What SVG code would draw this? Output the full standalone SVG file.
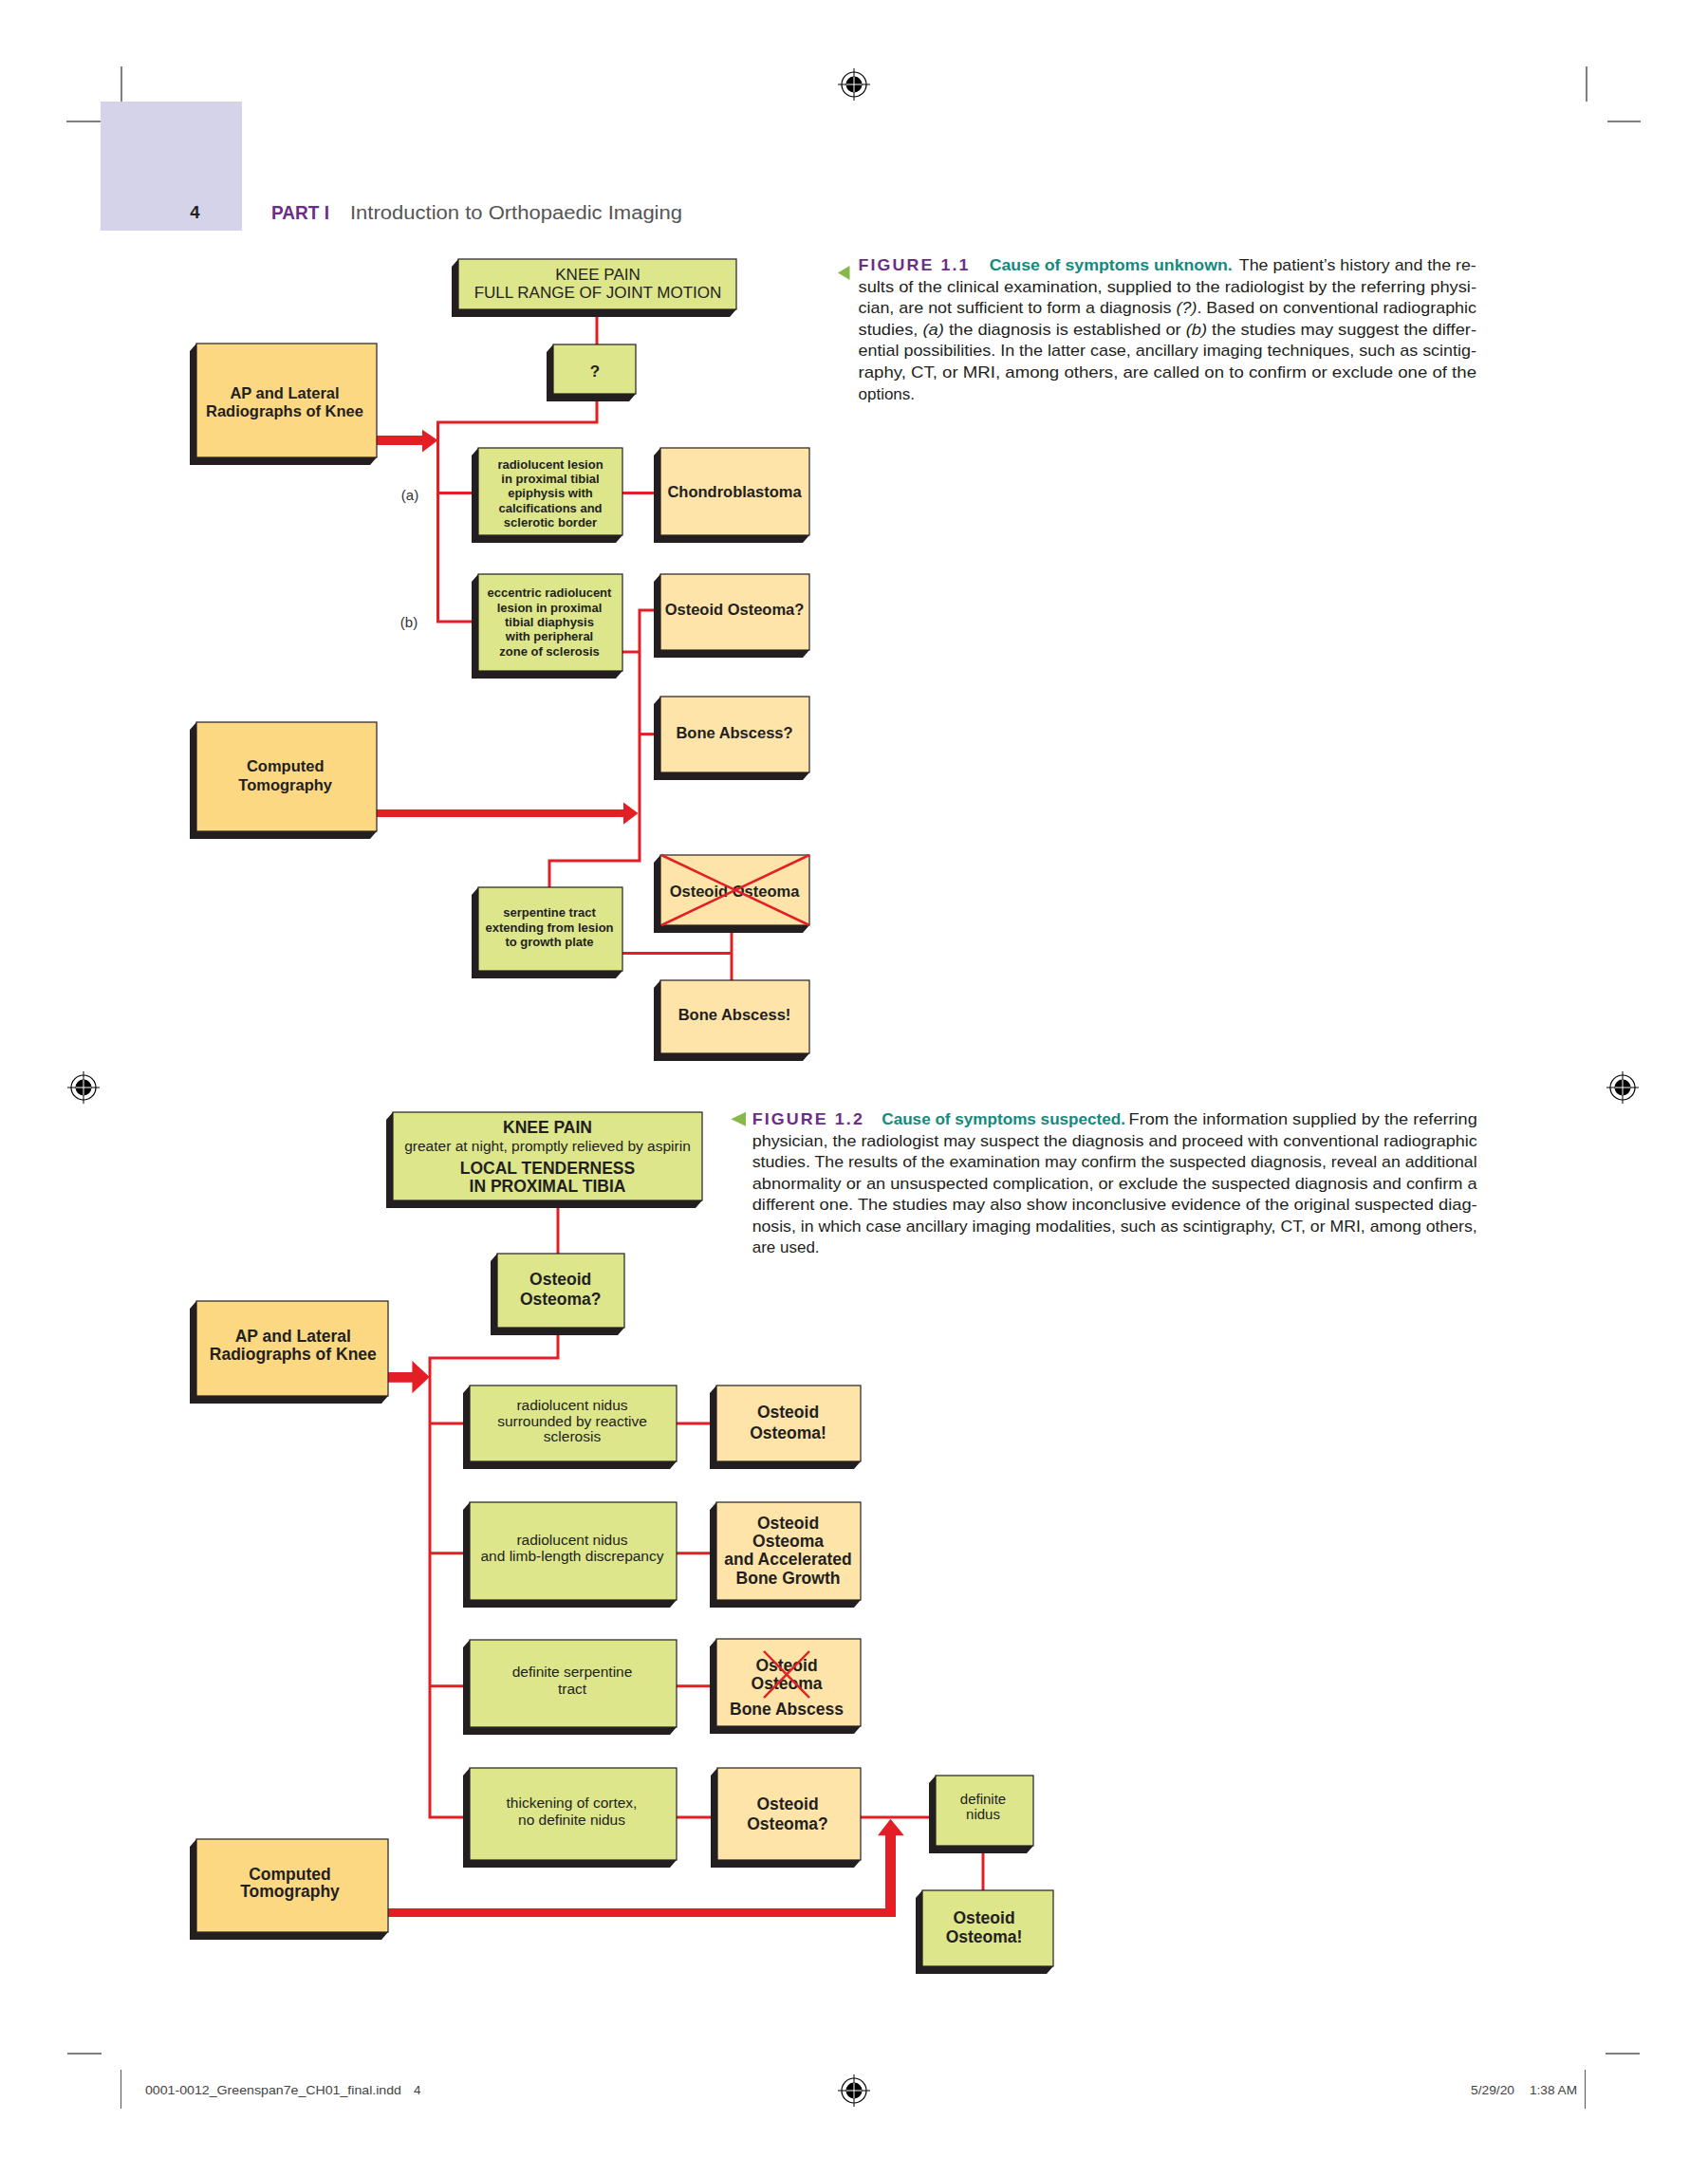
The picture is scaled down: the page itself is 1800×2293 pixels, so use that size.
<svg xmlns="http://www.w3.org/2000/svg" width="1800" height="2293" viewBox="0 0 1800 2293">
<style>
text{font-family:"Liberation Sans",Arial,sans-serif;fill:#231f20}
.sh{fill:#231f20}
.g{fill:#dde68b;stroke:#231f20;stroke-width:1.2}
.o{fill:#fdd882;stroke:#231f20;stroke-width:1.2}
.p{fill:#fee4a8;stroke:#231f20;stroke-width:1.2}
.c{fill:none;stroke:#e31e25;stroke-width:3}
.x{fill:none;stroke:#e31e25;stroke-width:2.5}
.ar{fill:#e31e25}
.t{text-anchor:middle}
.b1{font-size:16.5px;font-weight:bold}
.b2{font-size:17.5px;font-weight:bold}
.s1{font-size:13px;font-weight:bold}
.r2{font-size:15.5px}
.cap{font-size:17px}
.fig{font-size:17px;font-weight:bold;fill:#6b2d87;letter-spacing:2px}
.ttl{font-size:17px;font-weight:bold;fill:#138a7c}
.crop{stroke:#555;stroke-width:1.5}
.ft{font-size:13.5px;fill:#444}
</style>
<defs>
<g id="tgt">
<circle r="13" fill="none" stroke="#000" stroke-width="1.2"/>
<circle r="8.5" fill="#000"/>
<line x1="-17" y1="0" x2="17" y2="0" stroke="#000" stroke-width="1"/>
<line x1="0" y1="-17" x2="0" y2="17" stroke="#000" stroke-width="1"/>
<line x1="-8" y1="0" x2="8" y2="0" stroke="#fff" stroke-width="1"/>
<line x1="0" y1="-8" x2="0" y2="8" stroke="#fff" stroke-width="1"/>
</g>
</defs>
<rect width="1800" height="2293" fill="#fff"/>

<!-- page furniture -->
<g id="page">
<line class="crop" x1="128" y1="70" x2="128" y2="107"/>
<line class="crop" x1="70" y1="128" x2="106" y2="128"/>
<line class="crop" x1="1672" y1="70" x2="1672" y2="107"/>
<line class="crop" x1="1694" y1="128" x2="1729" y2="128"/>
<line class="crop" x1="71" y1="2164" x2="107" y2="2164"/>
<line class="crop" x1="1692" y1="2164" x2="1728" y2="2164"/>
<line stroke="#555" stroke-width="1" x1="127.5" y1="2181" x2="127.5" y2="2222"/>
<line stroke="#555" stroke-width="1" x1="1670.5" y1="2181" x2="1670.5" y2="2222"/>
<use href="#tgt" x="900" y="89"/>
<use href="#tgt" x="88" y="1146"/>
<use href="#tgt" x="1710" y="1146"/>
<use href="#tgt" x="900" y="2203"/>
<rect x="106" y="107" width="149" height="136" fill="#d4d3ea"/>
<text x="205.5" y="229.5" style="font-size:18.5px;font-weight:bold" text-anchor="middle">4</text>
<text x="286" y="230.5" style="font-size:20px;font-weight:bold;fill:#6b2d87" textLength="61" lengthAdjust="spacingAndGlyphs">PART I</text>
<text x="369" y="230.5" style="font-size:20px;fill:#555" textLength="350" lengthAdjust="spacingAndGlyphs">Introduction to Orthopaedic Imaging</text>
<text class="ft" x="153" y="2207" textLength="270" lengthAdjust="spacingAndGlyphs">0001-0012_Greenspan7e_CH01_final.indd</text>
<text class="ft" x="436" y="2207">4</text>
<text class="ft" x="1550" y="2207" textLength="46" lengthAdjust="spacingAndGlyphs">5/29/20</text>
<text class="ft" x="1612" y="2207" textLength="50" lengthAdjust="spacingAndGlyphs">1:38 AM</text>
</g>

<!-- captions -->
<g id="caption1">
<polygon points="895.5,280 883,287.5 895.5,295" fill="#86b84a"/>
<text class="fig" x="904.5" y="285" textLength="118" lengthAdjust="spacingAndGlyphs">FIGURE 1.1</text>
<text class="ttl" x="1042.7" y="285" textLength="256" lengthAdjust="spacingAndGlyphs">Cause of symptoms unknown.</text>
<text class="cap" x="1305.8" y="285" textLength="250" lengthAdjust="spacingAndGlyphs">The patient’s history and the re-</text>
<text class="cap" x="904.5" y="307.5" textLength="651.5" lengthAdjust="spacingAndGlyphs">sults of the clinical examination, supplied to the radiologist by the referring physi-</text>
<text class="cap" x="904.5" y="330" textLength="651.5" lengthAdjust="spacingAndGlyphs">cian, are not sufficient to form a diagnosis <tspan font-style="italic">(?)</tspan>. Based on conventional radiographic</text>
<text class="cap" x="904.5" y="352.7" textLength="651.5" lengthAdjust="spacingAndGlyphs">studies, <tspan font-style="italic">(a)</tspan> the diagnosis is established or <tspan font-style="italic">(b)</tspan> the studies may suggest the differ-</text>
<text class="cap" x="904.5" y="375.3" textLength="651.5" lengthAdjust="spacingAndGlyphs">ential possibilities. In the latter case, ancillary imaging techniques, such as scintig-</text>
<text class="cap" x="904.5" y="398" textLength="651.5" lengthAdjust="spacingAndGlyphs">raphy, CT, or MRI, among others, are called on to confirm or exclude one of the</text>
<text class="cap" x="904.5" y="420.5">options.</text>
</g>
<g id="caption2">
<polygon points="786,1171.7 770.4,1179.2 786,1186.7" fill="#86b84a"/>
<text class="fig" x="792.7" y="1185" textLength="118.3" lengthAdjust="spacingAndGlyphs">FIGURE 1.2</text>
<text class="ttl" x="929.3" y="1185" textLength="256.7" lengthAdjust="spacingAndGlyphs">Cause of symptoms suspected.</text>
<text class="cap" x="1189.6" y="1185" textLength="367.2" lengthAdjust="spacingAndGlyphs">From the information supplied by the referring</text>
<text class="cap" x="792.7" y="1207.5" textLength="764" lengthAdjust="spacingAndGlyphs">physician, the radiologist may suspect the diagnosis and proceed with conventional radiographic</text>
<text class="cap" x="792.7" y="1230" textLength="764" lengthAdjust="spacingAndGlyphs">studies. The results of the examination may confirm the suspected diagnosis, reveal an additional</text>
<text class="cap" x="792.7" y="1252.5" textLength="764" lengthAdjust="spacingAndGlyphs">abnormality or an unsuspected complication, or exclude the suspected diagnosis and confirm a</text>
<text class="cap" x="792.7" y="1275" textLength="764" lengthAdjust="spacingAndGlyphs">different one. The studies may also show inconclusive evidence of the original suspected diag-</text>
<text class="cap" x="792.7" y="1297.5" textLength="764" lengthAdjust="spacingAndGlyphs">nosis, in which case ancillary imaging modalities, such as scintigraphy, CT, or MRI, among others,</text>
<text class="cap" x="792.7" y="1320">are used.</text>
</g>

<!-- connectors -->
<g id="connectors">
<path class="c" d="M629,326 V363"/>
<path class="c" d="M629,415 V445 H461.5 V655 H504"/>
<path class="c" d="M461.5,519.5 H504"/>
<path class="c" d="M656,519.5 H696"/>
<path class="c" d="M656,687 H674"/>
<path class="c" d="M696,643 H674 V907 H579 V935"/>
<path class="c" d="M674,773.6 H696"/>
<path class="c" d="M656,1004.4 H771"/>
<path class="c" d="M771,975 V1033"/>
<path class="ar" d="M397,459 H445 V452.7 L461.5,464 L445,476.5 V469 H397 Z"/>
<path class="ar" d="M397,853 H657 V845.5 L672.5,857 L657,868.7 V861 H397 Z"/>

<path class="c" d="M588,1265 V1321"/>
<path class="c" d="M588,1399 V1431 H453 V1915 H495"/>
<path class="c" d="M453,1500 H495"/>
<path class="c" d="M453,1636.7 H495"/>
<path class="c" d="M453,1776.7 H495"/>
<path class="c" d="M713,1500 H755"/>
<path class="c" d="M713,1636.7 H755"/>
<path class="c" d="M713,1776.7 H755"/>
<path class="c" d="M713,1915 H756"/>
<path class="c" d="M907,1915 H986"/>
<path class="c" d="M1036,1945 V1992"/>
<path class="ar" d="M409,1446 H434.4 V1434 L452.7,1451 L434.4,1468.3 V1456.7 H409 Z"/>
<path class="ar" d="M409,2011 H933 V1934.3 H925 L938.5,1916.7 L952.8,1934.3 H944 V2020 H409 Z"/>
</g>

<!-- Figure 1.1 nodes -->
<g id="f1-knee">
<polygon class="sh" points="483,273 776,273 776,326 769,334 476,334 476,281"/>
<rect class="g" x="483" y="273" width="293" height="53"/>
<text class="t" x="630" y="294.7" style="font-size:17px">KNEE PAIN</text>
<text class="t" x="630" y="313.8" style="font-size:17px">FULL RANGE OF JOINT MOTION</text>
</g>
<g id="f1-q">
<polygon class="sh" points="583,363 670,363 670,415 663,423 576,423 576,371"/>
<rect class="g" x="583" y="363" width="87" height="52"/>
<text class="t" x="627" y="397" style="font-size:17px;font-weight:bold">?</text>
</g>
<g id="f1-ap">
<polygon class="sh" points="207,362 397,362 397,482 390,490 200,490 200,370"/>
<rect class="o" x="207" y="362" width="190" height="120"/>
<text class="t b1" x="300" y="419.8">AP and Lateral</text>
<text class="t b1" x="300" y="438.6">Radiographs of Knee</text>
</g>
<text x="432" y="527" text-anchor="middle" style="font-size:15px;fill:#333">(a)</text>
<text x="431" y="660.7" text-anchor="middle" style="font-size:15px;fill:#333">(b)</text>
<g id="f1-a">
<polygon class="sh" points="504,472 656,472 656,564 649,572 497,572 497,480"/>
<rect class="g" x="504" y="472" width="152" height="92"/>
<text class="t s1" x="580" y="493.7">radiolucent lesion</text>
<text class="t s1" x="580" y="509">in proximal tibial</text>
<text class="t s1" x="580" y="524.3">epiphysis with</text>
<text class="t s1" x="580" y="539.6">calcifications and</text>
<text class="t s1" x="580" y="554.9">sclerotic border</text>
</g>
<g id="f1-chondro">
<polygon class="sh" points="696,472 853,472 853,564 846,572 689,572 689,480"/>
<rect class="p" x="696" y="472" width="157" height="92"/>
<text class="t b1" x="774" y="524.3">Chondroblastoma</text>
</g>
<g id="f1-b">
<polygon class="sh" points="504,605 656,605 656,707 649,715 497,715 497,613"/>
<rect class="g" x="504" y="605" width="152" height="102"/>
<text class="t s1" x="579" y="629">eccentric radiolucent</text>
<text class="t s1" x="579" y="644.9">lesion in proximal</text>
<text class="t s1" x="579" y="660">tibial diaphysis</text>
<text class="t s1" x="579" y="675.4">with peripheral</text>
<text class="t s1" x="579" y="690.5">zone of sclerosis</text>
</g>
<g id="f1-oo">
<polygon class="sh" points="696,605 853,605 853,685 846,693 689,693 689,613"/>
<rect class="p" x="696" y="605" width="157" height="80"/>
<text class="t b1" x="774" y="648.4">Osteoid Osteoma?</text>
</g>
<g id="f1-ba">
<polygon class="sh" points="696,734 853,734 853,814 846,822 689,822 689,742"/>
<rect class="p" x="696" y="734" width="157" height="80"/>
<text class="t b1" x="774" y="778">Bone Abscess?</text>
</g>
<g id="f1-ct">
<polygon class="sh" points="207,761 397,761 397,876 390,884 200,884 200,769"/>
<rect class="o" x="207" y="761" width="190" height="115"/>
<text class="t b1" x="300.7" y="813.3">Computed</text>
<text class="t b1" x="300.7" y="832.5">Tomography</text>
</g>
<g id="f1-serp">
<polygon class="sh" points="504,935 656,935 656,1023 649,1031 497,1031 497,943"/>
<rect class="g" x="504" y="935" width="152" height="88"/>
<text class="t s1" x="579" y="965.8">serpentine tract</text>
<text class="t s1" x="579" y="981.6">extending from lesion</text>
<text class="t s1" x="579" y="997.4">to growth plate</text>
</g>
<g id="f1-crossed">
<polygon class="sh" points="696,901 853,901 853,975 846,983 689,983 689,909"/>
<rect class="p" x="696" y="901" width="157" height="74"/>
<text class="t b1" x="774" y="944.8">Osteoid Osteoma</text>
<path class="x" d="M697,901 L853,975 M853,901 L697,975"/>
</g>
<g id="f1-ba2">
<polygon class="sh" points="696,1033 853,1033 853,1110 846,1118 689,1118 689,1041"/>
<rect class="p" x="696" y="1033" width="157" height="77"/>
<text class="t b1" x="774" y="1075.3">Bone Abscess!</text>
</g>

<!-- Figure 1.2 nodes -->
<g id="f2-knee">
<polygon class="sh" points="414,1172 740,1172 740,1265 733,1273 407,1273 407,1180"/>
<rect class="g" x="414" y="1172" width="326" height="93"/>
<text class="t b2" x="577" y="1194">KNEE PAIN</text>
<text class="t" x="577" y="1213" style="font-size:15.5px">greater at night, promptly relieved by aspirin</text>
<text class="t b2" x="577" y="1236.7">LOCAL TENDERNESS</text>
<text class="t b2" x="577" y="1255.7">IN PROXIMAL TIBIA</text>
</g>
<g id="f2-oo">
<polygon class="sh" points="524,1321 658,1321 658,1399 651,1407 517,1407 517,1329"/>
<rect class="g" x="524" y="1321" width="134" height="78"/>
<text class="t b2" x="590.7" y="1354">Osteoid</text>
<text class="t b2" x="590.7" y="1375">Osteoma?</text>
</g>
<g id="f2-ap">
<polygon class="sh" points="207,1371 409,1371 409,1471 402,1479 200,1479 200,1379"/>
<rect class="o" x="207" y="1371" width="202" height="100"/>
<text class="t b2" x="308.8" y="1414.3">AP and Lateral</text>
<text class="t b2" x="308.8" y="1433.3">Radiographs of Knee</text>
</g>
<g id="f2-r1l">
<polygon class="sh" points="495,1460 713,1460 713,1540 706,1548 488,1548 488,1468"/>
<rect class="g" x="495" y="1460" width="218" height="80"/>
<text class="t r2" x="603" y="1486">radiolucent nidus</text>
<text class="t r2" x="603" y="1503.3">surrounded by reactive</text>
<text class="t r2" x="603" y="1519.3">sclerosis</text>
</g>
<g id="f2-r1r">
<polygon class="sh" points="755,1460 907,1460 907,1540 900,1548 748,1548 748,1468"/>
<rect class="p" x="755" y="1460" width="152" height="80"/>
<text class="t b2" x="830.5" y="1494.3">Osteoid</text>
<text class="t b2" x="830.5" y="1516">Osteoma!</text>
</g>
<g id="f2-r2l">
<polygon class="sh" points="495,1583 713,1583 713,1686 706,1694 488,1694 488,1591"/>
<rect class="g" x="495" y="1583" width="218" height="103"/>
<text class="t r2" x="603" y="1628.3">radiolucent nidus</text>
<text class="t r2" x="603" y="1645">and limb-length discrepancy</text>
</g>
<g id="f2-r2r">
<polygon class="sh" points="755,1583 907,1583 907,1686 900,1694 748,1694 748,1591"/>
<rect class="p" x="755" y="1583" width="152" height="103"/>
<text class="t b2" x="830.5" y="1610.7">Osteoid</text>
<text class="t b2" x="830.5" y="1630">Osteoma</text>
<text class="t b2" x="830.5" y="1649.3">and Accelerated</text>
<text class="t b2" x="830.5" y="1668.7">Bone Growth</text>
</g>
<g id="f2-r3l">
<polygon class="sh" points="495,1728 713,1728 713,1820 706,1828 488,1828 488,1736"/>
<rect class="g" x="495" y="1728" width="218" height="92"/>
<text class="t r2" x="603" y="1767.3">definite serpentine</text>
<text class="t r2" x="603" y="1785">tract</text>
</g>
<g id="f2-r3r">
<polygon class="sh" points="755,1727 907,1727 907,1819 900,1827 748,1827 748,1735"/>
<rect class="p" x="755" y="1727" width="152" height="92"/>
<text class="t b2" x="829" y="1760.7">Osteoid</text>
<text class="t b2" x="829" y="1780">Osteoma</text>
<text class="t b2" x="829" y="1807.3">Bone Abscess</text>
<path class="x" d="M805,1740 L853,1789 M853,1740 L805,1789"/>
</g>
<g id="f2-r4l">
<polygon class="sh" points="495,1863 713,1863 713,1960 706,1968 488,1968 488,1871"/>
<rect class="g" x="495" y="1863" width="218" height="97"/>
<text class="t r2" x="602.5" y="1905">thickening of cortex,</text>
<text class="t r2" x="602.5" y="1923.3">no definite nidus</text>
</g>
<g id="f2-r4r">
<polygon class="sh" points="756,1863 907,1863 907,1960 900,1968 749,1968 749,1871"/>
<rect class="p" x="756" y="1863" width="151" height="97"/>
<text class="t b2" x="830" y="1906.7">Osteoid</text>
<text class="t b2" x="830" y="1928.3">Osteoma?</text>
</g>
<g id="f2-nidus">
<polygon class="sh" points="986,1871 1089,1871 1089,1945 1082,1953 979,1953 979,1879"/>
<rect class="g" x="986" y="1871" width="103" height="74"/>
<text class="t" x="1036" y="1901" style="font-size:15px">definite</text>
<text class="t" x="1036" y="1916.7" style="font-size:15px">nidus</text>
</g>
<g id="f2-final">
<polygon class="sh" points="972,1992 1110,1992 1110,2072 1103,2080 965,2080 965,2000"/>
<rect class="g" x="972" y="1992" width="138" height="80"/>
<text class="t b2" x="1037" y="2026.7">Osteoid</text>
<text class="t b2" x="1037" y="2046.7">Osteoma!</text>
</g>
<g id="f2-ct">
<polygon class="sh" points="207,1938 409,1938 409,2036 402,2044 200,2044 200,1946"/>
<rect class="o" x="207" y="1938" width="202" height="98"/>
<text class="t b2" x="305.5" y="1981">Computed</text>
<text class="t b2" x="305.5" y="1999.3">Tomography</text>
</g>
</svg>
